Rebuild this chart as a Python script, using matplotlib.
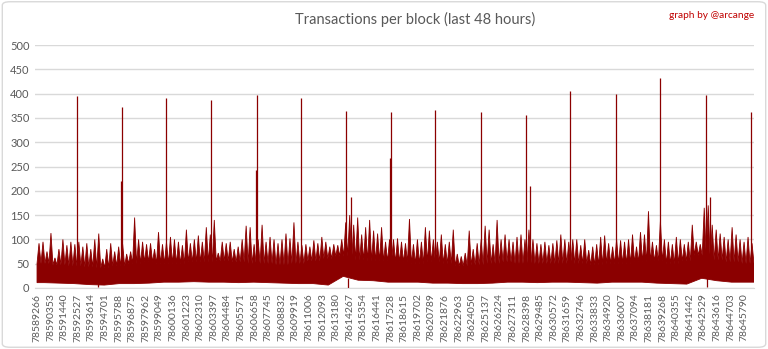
import numpy as np
import matplotlib.pyplot as plt
from matplotlib.patches import FancyBboxPatch

# ---- data ----
first_block = 78589266
last_block = 78646580
label_step = 1087

# upper envelope of tx/block, one value per ~320-block bin (180 bins)
bin_max = [
    92, 95, 75, 113, 62, 80, 100, 88, 95, 90, 95, 85, 92, 80, 100, 112, 60, 80, 92, 75,
    85, 90, 70, 75, 145, 100, 95, 90, 92, 80, 115, 90, 95, 105, 100, 95, 88, 120, 92, 100,
    108, 95, 125, 110, 140, 72, 95, 92, 95, 80, 85, 100, 128, 125, 90, 100, 130, 95, 105, 100,
    92, 100, 112, 102, 135, 95, 88, 90, 85, 98, 92, 105, 95, 85, 90, 88, 100, 135, 150, 130,
    145, 110, 125, 140, 118, 112, 125, 95, 100, 100, 102, 95, 92, 142, 90, 100, 95, 125, 118, 100,
    95, 110, 90, 95, 120, 70, 65, 72, 118, 80, 92, 100, 128, 120, 90, 140, 100, 110, 100, 95,
    105, 110, 100, 120, 100, 92, 90, 95, 88, 92, 98, 110, 100, 95, 100, 100, 88, 100, 78, 85,
    90, 105, 108, 92, 85, 100, 98, 95, 100, 110, 85, 115, 110, 158, 95, 88, 138, 100, 95, 90,
    105, 100, 90, 95, 130, 95, 90, 165, 170, 130, 120, 112, 105, 100, 125, 110, 100, 95, 105, 92,
]

# hourly floor (lowest values) and top of the dense band
hour_floor = [
    11, 10, 9, 7, 6, 9, 9, 10, 12, 12, 13, 12,
    12, 11, 12, 11, 10, 9, 9, 6, 24, 16, 15, 12,
    12, 12, 10, 10, 9, 9, 10, 12, 12, 11, 12, 12,
    11, 10, 12, 12, 12, 10, 9, 8, 20, 15, 12, 12,
]
hour_body = [
    50, 47, 45, 43, 41, 45, 50, 53, 50, 50, 53, 53,
    55, 53, 50, 50, 47, 50, 55, 60, 65, 57, 55, 55,
    53, 50, 53, 50, 45, 47, 50, 53, 50, 50, 50, 50,
    50, 47, 50, 50, 53, 55, 50, 55, 67, 57, 53, 50,
]

# isolated tall blocks
spike_blocks = [78592466, 78595986, 78596066, 78599586, 78603186, 78606786, 78606866,
                78610386, 78613986, 78614386, 78617506, 78617586, 78621106, 78624786,
                78628386, 78628706, 78631906, 78635586, 78639026, 78642706, 78643026,
                78646306]
spike_values = [395, 220, 372, 390, 387, 243, 397,
                390, 365, 187, 267, 363, 367, 363,
                357, 210, 405, 400, 432, 398, 187,
                363]

# near-empty blocks
dip_blocks = [78594166, 78614146, 78642786]
dip_values = [3, 0, 2]

# ---- plot ----
fig = plt.figure(figsize=(7.68, 3.49), dpi=100)
fig.patch.set_facecolor('white')
fig.patches.append(FancyBboxPatch((0.003, 0.005), 0.994, 0.99, boxstyle='round,pad=0,rounding_size=0.01',
                                  transform=fig.transFigure, fill=False, edgecolor='#d9d9d9', lw=1))

ax = fig.add_axes([0.0456, 0.1748, 0.9362, 0.6962])
red = '#8b0000'

n_bins = len(bin_max)
n_hours = len(hour_floor)
bin_w = (last_block - first_block) / n_bins
hour_w = (last_block - first_block) / n_hours

# zigzag top: each bin's max at its centre, band top at the bin edges
edges = first_block + np.arange(n_bins + 1) * bin_w
centres = first_block + (np.arange(n_bins) + 0.5) * bin_w
edge_hour = np.minimum((np.arange(n_bins + 1) * n_hours) // n_bins, n_hours - 1)
top_x = np.empty(2 * n_bins + 1)
top_y = np.empty(2 * n_bins + 1)
top_x[0::2] = edges
top_x[1::2] = centres
top_y[0::2] = np.array(hour_body)[edge_hour]
top_y[1::2] = bin_max

hour_x = first_block + (np.arange(n_hours) + 0.5) * hour_w
low_x = np.r_[first_block, hour_x, last_block]
low_y = np.r_[hour_floor[0], hour_floor, hour_floor[-1]]

ax.fill(np.r_[top_x, low_x[::-1]], np.r_[top_y, low_y[::-1]], color=red, lw=0.6, ec=red)
ax.vlines(spike_blocks, 40, spike_values, color=red, lw=0.9)
ax.vlines(dip_blocks, dip_values, 20, color=red, lw=0.9)

ax.set_xlim(first_block - 160, last_block)
ax.set_ylim(0, 500)
ax.set_yticks(range(0, 501, 50))
ax.grid(axis='y', color='#d9d9d9', lw=1)
ax.set_axisbelow(True)
ticks = np.arange(first_block, last_block, label_step)
ax.set_xticks(ticks)
ax.set_xticklabels([str(t) for t in ticks], rotation=90, fontsize=7.5, color='#595959', family='Lato')
for lab in ax.get_yticklabels():
    lab.set_fontsize(8)
    lab.set_color('#595959')
    lab.set_family('Lato')
ax.tick_params(length=0, pad=4)
for s in ['top', 'right', 'left']:
    ax.spines[s].set_visible(False)
ax.spines['bottom'].set_color('#d9d9d9')

fig.text(0.541, 0.945, 'Transactions per block (last 48 hours)', ha='center', va='center',
         fontsize=10.5, color='#595959', family='Lato')
fig.text(0.982, 0.955, 'graph by @arcange', ha='right', va='center',
         fontsize=7.3, color='#c00000', family='Lato')

fig.savefig('out.png', dpi=100)
